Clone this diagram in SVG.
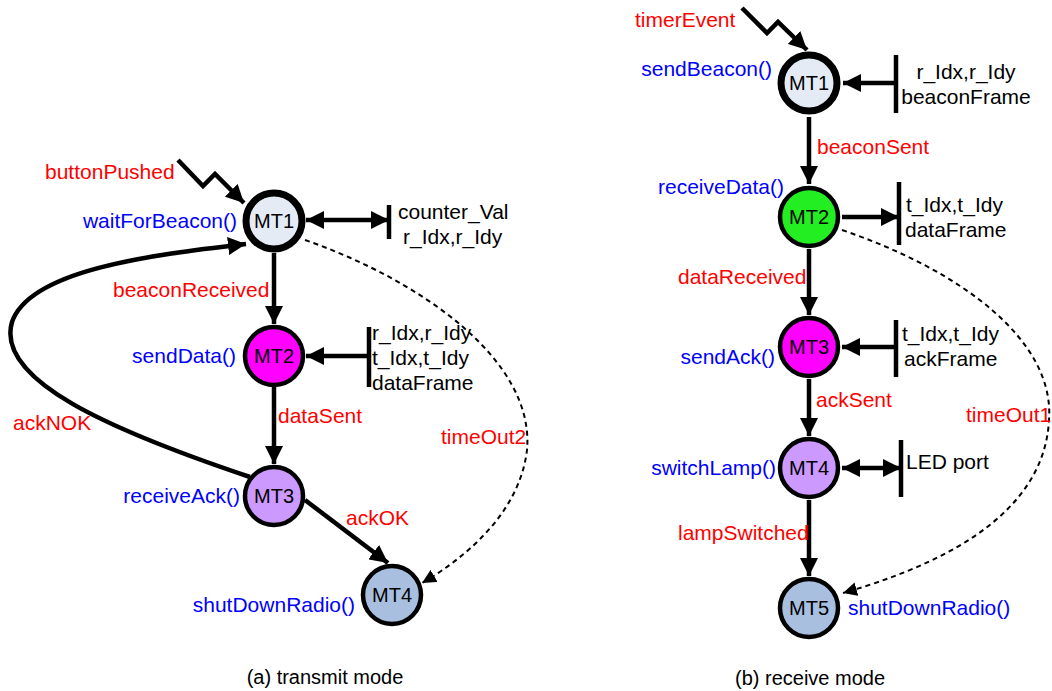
<svg xmlns="http://www.w3.org/2000/svg" width="1052" height="691" viewBox="0 0 1052 691">
<style>
text{font-family:"Liberation Sans",Arial,sans-serif;font-size:21px}
.ev{fill:#ff0000}
.act{fill:#0000ff}
.dat{fill:#000}
.cap{font-size:20px}
.st{stroke:#000;stroke-width:4.5}
.init{stroke:#000;stroke-width:7}
.e{stroke:#000;stroke-width:4.5;fill:none}
.d{stroke:#000;stroke-width:2;fill:none;stroke-dasharray:5,4}
.lbl{text-anchor:middle;fill:#000;font-size:20px}
</style>
<defs>
<marker id="ah" viewBox="0 0 18 18" refX="18" refY="9" markerWidth="18" markerHeight="18" markerUnits="userSpaceOnUse" orient="auto"><path d="M0,0 L18,9 L0,18 z" fill="#000"/></marker>
<marker id="ahs" viewBox="0 0 18 18" refX="0" refY="9" markerWidth="18" markerHeight="18" markerUnits="userSpaceOnUse" orient="auto"><path d="M18,0 L0,9 L18,18 z" fill="#000"/></marker>
<marker id="ahd" viewBox="0 0 14 14" refX="14" refY="7" markerWidth="14" markerHeight="14" markerUnits="userSpaceOnUse" orient="auto"><path d="M0,0 L14,7 L0,14 z" fill="#000"/></marker>
</defs>
<rect width="1052" height="691" fill="#fff"/>

<g id="connectors">
<!-- left -->
<polyline class="e" points="178,160 203,186 215,174 244,203" marker-end="url(#ah)"/>
<line class="e" x1="306" y1="220" x2="389" y2="220" marker-start="url(#ahs)" marker-end="url(#ah)"/>
<line class="e" x1="389" y1="205" x2="389" y2="239"/>
<line class="e" x1="274" y1="253" x2="274" y2="324" marker-end="url(#ah)"/>
<line class="e" x1="369" y1="356" x2="306" y2="356" marker-end="url(#ah)"/>
<line class="e" x1="369" y1="327" x2="369" y2="387"/>
<line class="e" x1="274" y1="387" x2="274" y2="464" marker-end="url(#ah)"/>
<line class="e" x1="305" y1="500" x2="388" y2="563" marker-end="url(#ah)"/>
<path class="e" d="M250,477 C110,430 -5,380 12,322 C30,270 150,255 246,244" marker-end="url(#ah)"/>
<path class="d" d="M305,240 C420,280 535,360 527,450 C520,510 470,555 422,583" marker-end="url(#ahd)"/>
<!-- right -->
<polyline class="e" points="742,8 767,33 778,22 807,50" marker-end="url(#ah)"/>
<line class="e" x1="896" y1="83" x2="843" y2="83" marker-end="url(#ah)"/>
<line class="e" x1="896" y1="55" x2="896" y2="113"/>
<line class="e" x1="809" y1="117" x2="809" y2="184" marker-end="url(#ah)"/>
<line class="e" x1="842" y1="217" x2="899" y2="217" marker-end="url(#ah)"/>
<line class="e" x1="899" y1="182" x2="899" y2="245"/>
<line class="e" x1="809" y1="249" x2="809" y2="315" marker-end="url(#ah)"/>
<line class="e" x1="896" y1="347" x2="842" y2="347" marker-end="url(#ah)"/>
<line class="e" x1="896" y1="320" x2="896" y2="377"/>
<line class="e" x1="809" y1="379" x2="809" y2="436" marker-end="url(#ah)"/>
<line class="e" x1="842" y1="468" x2="901" y2="468" marker-start="url(#ahs)" marker-end="url(#ah)"/>
<line class="e" x1="901" y1="440" x2="901" y2="497"/>
<line class="e" x1="809" y1="500" x2="809" y2="576" marker-end="url(#ah)"/>
<path class="d" d="M842,230 C960,270 1055,340 1049,420 C1044,520 930,568 843,593" marker-end="url(#ahd)"/>
</g>

<g id="labels">
<text class="ev" x="45" y="179">buttonPushed</text>
<text class="dat" x="398" y="219">counter_Val</text>
<text class="dat" x="403" y="244">r_Idx,r_Idy</text>
<text class="ev" x="113" y="297">beaconReceived</text>
<text class="dat" x="372" y="340">r_Idx,r_Idy</text>
<text class="dat" x="372" y="365">t_Idx,t_Idy</text>
<text class="dat" x="372" y="390">dataFrame</text>
<text class="ev" x="278" y="423">dataSent</text>
<text class="ev" x="13" y="430">ackNOK</text>
<text class="ev" x="441" y="444">timeOut2</text>
<text class="ev" x="346" y="525">ackOK</text>
<text class="dat cap" x="325" y="684" text-anchor="middle">(a) transmit mode</text>

<text class="ev" x="635" y="27">timerEvent</text>
<text class="dat" x="966" y="79" text-anchor="middle">r_Idx,r_Idy</text>
<text class="dat" x="966" y="104" text-anchor="middle">beaconFrame</text>
<text class="ev" x="817" y="154">beaconSent</text>
<text class="dat" x="906" y="212">t_Idx,t_Idy</text>
<text class="dat" x="905" y="237">dataFrame</text>
<text class="ev" x="678" y="284">dataReceived</text>
<text class="dat" x="902" y="341">t_Idx,t_Idy</text>
<text class="dat" x="904" y="366">ackFrame</text>
<text class="ev" x="816" y="407">ackSent</text>
<text class="ev" x="966" y="422">timeOut1</text>
<text class="dat" x="906" y="469">LED port</text>
<text class="ev" x="678" y="540">lampSwitched</text>
<text class="dat cap" x="810" y="685" text-anchor="middle">(b) receive mode</text>
</g>

<g id="a-MT1">
<circle class="init" cx="274" cy="221" r="28" fill="#e4ebf5"/>
<text class="lbl" x="274" y="228">MT1</text>
<text class="act" x="237" y="228" text-anchor="end">waitForBeacon()</text>
</g>
<g id="a-MT2">
<circle class="st" cx="274" cy="356" r="29" fill="#ff00ff"/>
<text class="lbl" x="274" y="363">MT2</text>
<text class="act" x="236" y="363" text-anchor="end">sendData()</text>
</g>
<g id="a-MT3">
<circle class="st" cx="274" cy="496" r="29" fill="#cc99ff"/>
<text class="lbl" x="274" y="503">MT3</text>
<text class="act" x="240" y="503" text-anchor="end">receiveAck()</text>
</g>
<g id="a-MT4">
<circle class="st" cx="392" cy="595" r="29" fill="#a9bfe0"/>
<text class="lbl" x="392" y="602">MT4</text>
<text class="act" x="355" y="612" text-anchor="end">shutDownRadio()</text>
</g>

<g id="b-MT1">
<circle class="init" cx="809" cy="83" r="28" fill="#e4ebf5"/>
<text class="lbl" x="809" y="90">MT1</text>
<text class="act" x="772" y="76" text-anchor="end">sendBeacon()</text>
</g>
<g id="b-MT2">
<circle class="st" cx="809" cy="217" r="29" fill="#22ee22"/>
<text class="lbl" x="809" y="224">MT2</text>
<text class="act" x="784" y="194" text-anchor="end">receiveData()</text>
</g>
<g id="b-MT3">
<circle class="st" cx="809" cy="347" r="29" fill="#ff00ff"/>
<text class="lbl" x="809" y="354">MT3</text>
<text class="act" x="775" y="364" text-anchor="end">sendAck()</text>
</g>
<g id="b-MT4">
<circle class="st" cx="809" cy="468" r="29" fill="#cc99ff"/>
<text class="lbl" x="809" y="475">MT4</text>
<text class="act" x="776" y="475" text-anchor="end">switchLamp()</text>
</g>
<g id="b-MT5">
<circle class="st" cx="809" cy="608" r="29" fill="#a9bfe0"/>
<text class="lbl" x="809" y="615">MT5</text>
<text class="act" x="848" y="615">shutDownRadio()</text>
</g>
</svg>
